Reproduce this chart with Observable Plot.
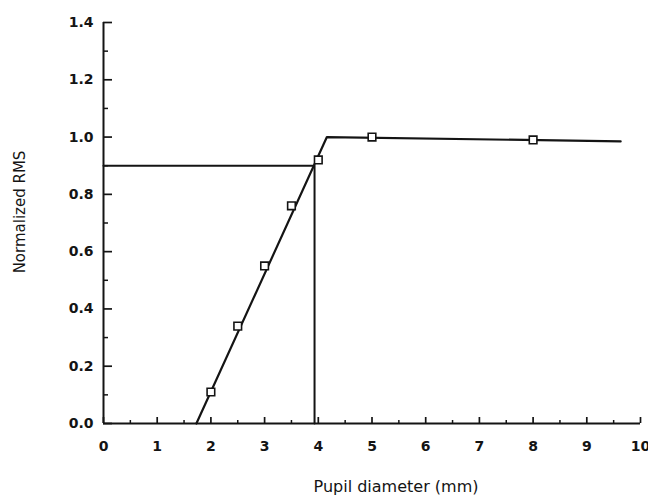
<!DOCTYPE html>
<html>
<head>
<meta charset="utf-8">
<script src="https://cdn.jsdelivr.net/npm/d3@7"></script>
<script src="https://cdn.jsdelivr.net/npm/@observablehq/plot@0.6"></script>
<style>
  html, body { margin: 0; padding: 0; background: #fff; }
  #chart svg { display: block; }
</style>
</head>
<body>
<div id="chart"></div>
<script>
// Measured points: normalized RMS against pupil diameter
const pupil = [2.0, 2.5, 3.0, 3.5, 4.0, 5.0, 8.0];
const rms = [0.11, 0.34, 0.55, 0.76, 0.92, 1.0, 0.99];

// Piecewise linear fit: rising segment, then plateau
const fitX = [1.73, 4.16, 9.63];
const fitY = [0.0, 1.0, 0.985];

// 90% criterion and the diameter where the fit reaches it
const criterion = 0.9;
const cutoff = 3.93;

// Axis ticks
const xMajor = [0, 1, 2, 3, 4, 5, 6, 7, 8, 9, 10];
const xMinor = [0.5, 1.5, 2.5, 3.5, 4.5, 5.5, 6.5, 7.5, 8.5, 9.5];
const yMajor = [0, 0.2, 0.4, 0.6, 0.8, 1.0, 1.2, 1.4];
const yMinor = [0.1, 0.3, 0.5, 0.7, 0.9, 1.1, 1.3];
const yLabels = ["0.0", "0.2", "0.4", "0.6", "0.8", "1.0", "1.2", "1.4"];

const xTitle = "Pupil diameter (mm)";
const yTitle = "Normalized RMS";

const points = pupil.map((x, i) => ({x, y: rms[i]}));
const fit = fitX.map((x, i) => ({x, y: fitY[i]}));
const guide = [
  {x: 0, y: criterion},
  {x: cutoff, y: criterion},
  {x: cutoff, y: 0}
];

const ink = "#141414";
const font = "'DejaVu Sans', sans-serif";

// ticks drawn outward, then shifted back across the axis so they point inward
const xTicks = (values, len, sw) =>
  Plot.axisX(values, {tickSize: len, dy: -len, tickFormat: () => "", stroke: ink, strokeWidth: sw, label: null});
const yTicks = (values, len, sw) =>
  Plot.axisY(values, {tickSize: len, dx: len, tickFormat: () => "", stroke: ink, strokeWidth: sw, label: null});

const chart = Plot.plot({
  width: 648,
  height: 498,
  marginLeft: 103,
  marginRight: 8,
  marginTop: 22,
  marginBottom: 75,
  style: {fontFamily: font, background: "#fff", color: ink},
  x: {domain: [0, 10]},
  y: {domain: [0, 1.4]},
  marks: [
    xTicks(xMajor, 6, 1.7),
    xTicks(xMinor, 3, 1.5),
    yTicks(yMajor, 9, 1.7),
    yTicks(yMinor, 5, 1.5),
    // tick labels
    Plot.axisX(xMajor, {tickSize: 0, tickPadding: 18, fontSize: 14, fontWeight: "bold", label: null,
      tickFormat: d => String(d), style: {letterSpacing: "0.3px"}}),
    Plot.axisY(yMajor, {tickSize: 0, tickPadding: 10, fontSize: 14, fontWeight: "bold",
      tickFormat: (d, i) => yLabels[i], label: null, style: {letterSpacing: "3.5px"}}),
    // axis lines
    Plot.ruleY([0], {stroke: ink, strokeWidth: 2}),
    Plot.ruleX([0], {stroke: ink, strokeWidth: 2}),
    // criterion guide
    Plot.line(guide, {x: "x", y: "y", stroke: ink, strokeWidth: 2}),
    // fitted curve
    Plot.line(fit, {x: "x", y: "y", stroke: ink, strokeWidth: 2.2}),
    // data points
    Plot.dot(points, {x: "x", y: "y", symbol: "square", r: 4.3, fill: "#fff", stroke: ink, strokeWidth: 1.6}),
    // axis titles
    Plot.text([xTitle], {frameAnchor: "bottom", textAnchor: "middle", dx: 24, dy: 68, fontSize: 16,
      fill: ink, style: {letterSpacing: "3.4px"}}),
    Plot.text([yTitle], {frameAnchor: "left", textAnchor: "middle", dx: -83, dy: -11, rotate: -90, fontSize: 15,
      fill: ink, style: {letterSpacing: "2.8px"}})
  ]
});

document.getElementById("chart").appendChild(chart);
</script>
</body>
</html>
